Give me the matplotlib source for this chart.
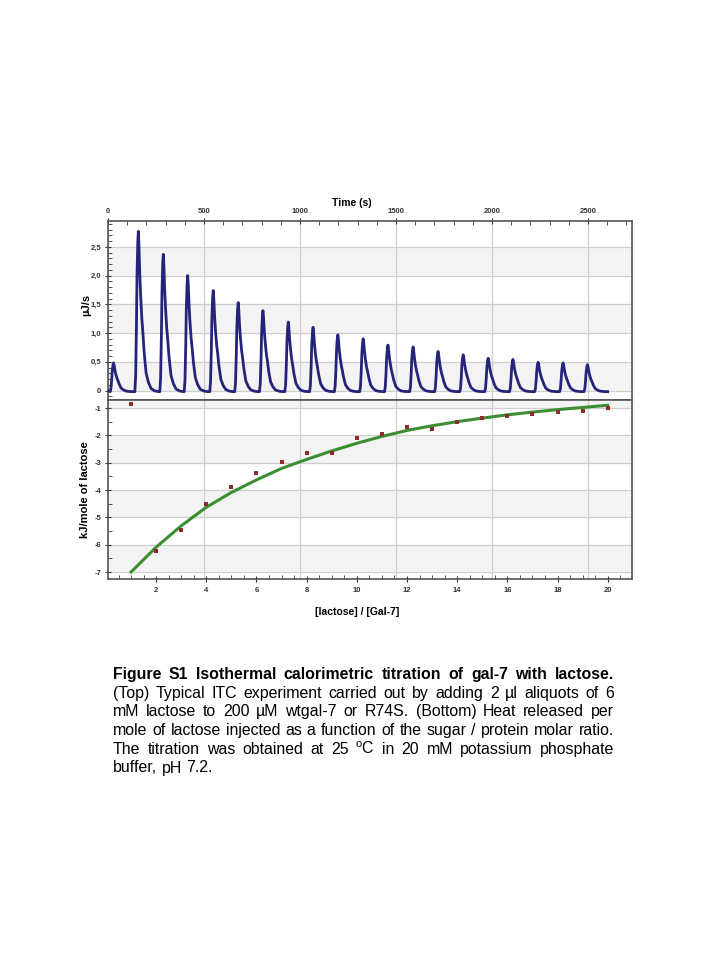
import numpy as np
import matplotlib
matplotlib.use("Agg")
import matplotlib.pyplot as plt
import matplotlib.transforms as mtransforms
from matplotlib.ticker import MultipleLocator

plt.rcParams['font.family'] = ['Liberation Sans', 'DejaVu Sans']
plt.rcParams['mathtext.fontset'] = 'custom'
plt.rcParams['mathtext.rm'] = 'Liberation Sans'
plt.rcParams['axes.unicode_minus'] = False

# --- raw thermogram: peak times (s) and peak heights (uJ/s)
peak_t = [29, 158, 288, 415, 548, 678, 807, 939, 1068, 1197,
          1329, 1458, 1589, 1719, 1850, 1980, 2109, 2240, 2370, 2497]
peak_h = [0.50, 2.79, 2.39, 2.02, 1.76, 1.55, 1.41, 1.21, 1.12, 0.99,
          0.92, 0.81, 0.78, 0.70, 0.64, 0.58, 0.56, 0.51, 0.50, 0.47]
# shape of one injection peak (offset from top in s, fraction of height)
prof_dt = [-18, -14, -10, -7, -3, 0, 3, 7, 12, 18, 23, 30, 40, 52, 66, 85, 105]
prof_fr = [0.0, 0.1, 0.4, 0.72, 0.93, 1.0, 0.92, 0.75, 0.6, 0.46, 0.38, 0.25, 0.12,
           0.06, 0.02, 0.005, 0.0]
baseline = -0.02

# --- integrated heats
ratio = list(range(1, 21))
heat = [-0.87, -6.22, -5.46, -4.50, -3.90, -3.39, -2.99, -2.64, -2.64, -2.09,
        -1.95, -1.70, -1.78, -1.50, -1.35, -1.30, -1.22, -1.16, -1.11, -1.01]
fit = [-7.00, -6.09, -5.31, -4.63, -4.09, -3.63, -3.21, -2.88, -2.57, -2.29,
       -2.04, -1.82, -1.65, -1.50, -1.37, -1.25, -1.15, -1.06, -0.98, -0.90]

time_ticks = [0, 500, 1000, 1500, 2000, 2500]
top_yticks = [0, 0.5, 1.0, 1.5, 2.0, 2.5]
top_ylabels = ['0', '0,5', '1,0', '1,5', '2,0', '2,5']
bot_xticks = [2, 4, 6, 8, 10, 12, 14, 16, 18, 20]
bot_yticks = [-1, -2, -3, -4, -5, -6, -7]

caption = [
    ("Figure S1 Isothermal calorimetric titration of gal-7 with lactose.", True),
    ("(Top) Typical ITC experiment carried out by adding 2 µl aliquots of 6", False),
    ("mM lactose to 200 µM wtgal-7 or R74S. (Bottom) Heat released per", False),
    ("mole of lactose injected as a function of the sugar / protein molar ratio.", False),
    ("The titration was obtained at 25 $^{\\mathrm{o}}$C in 20 mM potassium phosphate", False),
    ("buffer, pH 7.2.", False),
]

# build trace
tt = [0.0]
yy = [0.0]
for tp, h in zip(peak_t, peak_h):
    for d, f in zip(prof_dt, prof_fr):
        tt.append(tp + d)
        yy.append(baseline + h * f)
order = np.argsort(tt)
tt = np.array(tt)[order]
yy = np.array(yy)[order]

W, H = 720, 960
fig = plt.figure(figsize=(7.2, 9.6), dpi=100)
L, R = 108 / W, 632 / W
ax_t = fig.add_axes([L, 1 - 400 / H, R - L, 179 / H])
ax_b = fig.add_axes([L, 1 - 579 / H, R - L, 179 / H])

band = '#f3f3f3'
grid_c = '#cfcfcf'
spine_c = '#555555'
tick_c = '#333333'

# top panel
ax_t.set_xlim(0, 2729)
ax_t.set_ylim(-0.165, 2.95)
for lo, hi in [(0, 0.5), (1.0, 1.5), (2.0, 2.5)]:
    ax_t.axhspan(lo, hi, color=band, zorder=0.2, lw=0)
ax_t.set_axisbelow(True)
ax_t.grid(True, which='major', color=grid_c, lw=0.9)
ax_t.plot(tt, yy, color='#23247a', lw=2.0, solid_joinstyle='round', zorder=3)
ax_t.xaxis.tick_top()
ax_t.set_xticks(time_ticks)
ax_t.set_xticklabels([str(t) for t in time_ticks])
ax_t.xaxis.set_minor_locator(MultipleLocator(100))
ax_t.set_yticks(top_yticks)
ax_t.set_yticklabels(top_ylabels)
ax_t.yaxis.set_minor_locator(MultipleLocator(0.1))
ax_t.tick_params(axis='x', which='major', direction='inout', length=5, pad=1.5,
                 labelsize=5.5, colors=tick_c)
ax_t.tick_params(axis='x', which='minor', direction='in', length=3, color=tick_c)
ax_t.tick_params(axis='y', which='major', direction='inout', length=5, pad=2.5,
                 labelsize=5.5, colors=tick_c)
ax_t.tick_params(axis='y', which='minor', direction='in', length=3, color=tick_c)

# bottom panel
ax_b.set_xlim(0.08, 20.97)
ax_b.set_ylim(-7.256, -0.707)
for lo, hi in [(-1, -0.707), (-3, -2), (-5, -4), (-7, -6)]:
    ax_b.axhspan(lo, hi, color=band, zorder=0.2, lw=0)
ax_b.set_axisbelow(True)
ax_b.grid(True, axis='y', which='major', color=grid_c, lw=0.9)
vt = mtransforms.blended_transform_factory(ax_t.transData, ax_b.transAxes)
for t in time_ticks[1:]:
    ax_b.plot([t, t], [0, 1], transform=vt, color=grid_c, lw=0.9, zorder=0.5)
ax_b.plot(ratio, fit, color='#3b8e32', lw=2.2, zorder=3)
ax_b.plot(ratio, heat, 's', color='#8e2b2b', ms=3.2, mew=0, zorder=4)
ax_b.set_xticks(bot_xticks)
ax_b.set_xticklabels([str(v) for v in bot_xticks])
ax_b.xaxis.set_minor_locator(MultipleLocator(0.5))
ax_b.set_yticks(bot_yticks)
ax_b.set_yticklabels([str(v) for v in bot_yticks])
ax_b.yaxis.set_minor_locator(MultipleLocator(0.5))
ax_b.tick_params(axis='x', which='major', direction='inout', length=5, pad=3.5,
                 labelsize=5.5, colors=tick_c)
ax_b.tick_params(axis='x', which='minor', direction='in', length=3, color=tick_c)
ax_b.tick_params(axis='y', which='major', direction='inout', length=5, pad=2.5,
                 labelsize=5.5, colors=tick_c)
ax_b.tick_params(axis='y', which='minor', direction='in', length=3, color=tick_c)

for ax in (ax_t, ax_b):
    for s in ax.spines.values():
        s.set_color(spine_c)
        s.set_linewidth(1.2)
    for lab in ax.get_xticklabels() + ax.get_yticklabels():
        lab.set_fontweight('bold')

fig.text(352 / W, 1 - 203 / H, "Time (s)", ha='center', va='center',
         fontsize=7.5, fontweight='bold')
fig.text(357 / W, 1 - 612 / H, "[lactose] / [Gal-7]", ha='center', va='center',
         fontsize=7.5, fontweight='bold')
fig.text(86 / W, 1 - 305 / H, "µJ/s", ha='center', va='center', rotation=90,
         fontsize=8, fontweight='bold')
fig.text(85 / W, 1 - 490 / H, "kJ/mole of lactose", ha='center', va='center',
         rotation=90, fontsize=8, fontweight='bold')

# justified caption; font size chosen so the 4th line fills the column naturally
x0, x1 = 113 / W, 614 / W
fig.canvas.draw()
r = fig.canvas.get_renderer()
probe = fig.text(0, 0, caption[3][0], fontsize=10)
fs = 10 * (x1 - x0) * W / probe.get_window_extent(r).width * 0.995
probe.remove()
space = 0.278 * fs * 100 / 72 / W
for i, (line, bold) in enumerate(caption):
    y = 1 - (679 + 18.7 * i) / H
    words = line.split(' ')
    objs = [fig.text(0, y, w, fontsize=fs, fontweight='bold' if bold else 'normal',
                     va='baseline', ha='left') for w in words]
    widths = [o.get_window_extent(r).width / W for o in objs]
    if i == len(caption) - 1:
        gap = space
    else:
        gap = (x1 - x0 - sum(widths)) / (len(words) - 1)
    x = x0
    for o, w in zip(objs, widths):
        o.set_x(x)
        x += w + gap

fig.savefig("out.png", dpi=100, facecolor='white')
